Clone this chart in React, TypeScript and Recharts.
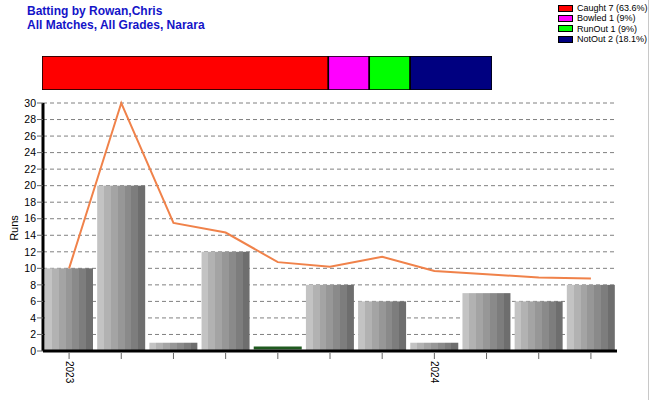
import React from 'react';
import { ComposedChart, BarChart, Bar, Line, XAxis, YAxis, CartesianGrid } from 'recharts';

const innings = ['1', '2', '3', '4', '5', '6', '7', '8', '9', '10', '11'];
const tickLabels = ['2023', '', '', '', '', '', '', '2024', '', '', ''];
const runs = [10, 20, 1, 12, 0, 8, 6, 1, 7, 6, 8];
const average = [10, 30, 15.5, 14.33, 10.75, 10.2, 11.4, 9.67, 9.29, 8.88, 8.78];
const yTicks = [0, 2, 4, 6, 8, 10, 12, 14, 16, 18, 20, 22, 24, 26, 28, 30];

const dismissalNames = ['Caught', 'Bowled', 'RunOut', 'NotOut'];
const dismissalCounts = [7, 1, 1, 2];
const dismissalLabels = ['Caught 7 (63.6%)', 'Bowled 1 (9%)', 'RunOut 1 (9%)', 'NotOut 2 (18.1%)'];
const dismissalColors = ['#ff0000', '#ff00ff', '#00ff00', '#000080'];

const mainData = innings.map((id, i) => ({ id, runs: runs[i], avg: average[i] }));
const dismissalRow: Record<string, any> = { name: 'all' };
dismissalNames.forEach((n, i) => (dismissalRow[n] = dismissalCounts[i]));
const dismissalData = [dismissalRow];

const FONT = '"Liberation Sans", Arial, sans-serif';
const stripeColors = ['#c3c3c3', '#b2b2b2', '#a4a4a4', '#979797', '#8a8a8a', '#7d7d7d', '#6e6e6e'];

const StripedBar = (props: any) => {
  const { x, y, width, height, value } = props;
  if (!value) {
    return <rect x={x} y={y - 4.5} width={width} height={3} fill="#1f5a1f" />;
  }
  return <rect x={x} y={y} width={width} height={height} fill="url(#barStripes)" />;
};

const XTick = (props: any) => {
  const { x, y, payload } = props;
  const label = tickLabels[payload.index] ?? '';
  return (
    <g>
      <line x1={x} y1={y - 6} x2={x} y2={y} stroke="#666" strokeWidth={1} />
      {label ? (
        <text
          transform={`translate(${x},${y + 2}) rotate(90)`}
          textAnchor="start"
          dominantBaseline="central"
          fontSize={10}
          fontFamily={FONT}
          fill="#000"
        >
          {label}
        </text>
      ) : null}
    </g>
  );
};

export default function App() {
  return (
    <div style={{ position: 'absolute', left: 0, top: 0, width: 650, height: 400, background: '#fff', fontFamily: FONT }}>
      <div style={{ position: 'absolute', left: 27, top: 4, color: '#1414c8', fontWeight: 'bold', fontSize: 12, lineHeight: '14px' }}>
        <div>Batting by Rowan,Chris</div>
        <div>All Matches, All Grades, Narara</div>
      </div>

      <div style={{ position: 'absolute', left: 558, top: 3, fontSize: 9, lineHeight: '10.3px', color: '#000' }}>
        {dismissalLabels.map((l, i) => (
          <div key={l} style={{ display: 'flex', alignItems: 'center', height: 10.3 }}>
            <span style={{ display: 'inline-block', width: 13, height: 5, background: dismissalColors[i], border: '1px solid #000', marginRight: 4 }} />
            <span>{l}</span>
          </div>
        ))}
      </div>

      <div style={{ position: 'absolute', left: 42, top: 56 }}>
        <BarChart width={450} height={34} data={dismissalData} layout="vertical" margin={{ top: 0, right: 0, bottom: 0, left: 0 }} barCategoryGap={0}>
          <XAxis type="number" domain={[0, 11]} hide />
          <YAxis type="category" dataKey="name" hide />
          {dismissalNames.map((n, i) => (
            <Bar key={n} dataKey={n} stackId="d" fill={dismissalColors[i]} stroke="#000" strokeWidth={1.5} isAnimationActive={false} />
          ))}
        </BarChart>
      </div>

      <div style={{ position: 'absolute', left: 0, top: 0 }}>
        <ComposedChart width={650} height={400} data={mainData} margin={{ top: 103, right: 33, bottom: 0, left: 0 }} barCategoryGap={2}>
          <defs>
            <linearGradient id="barStripes" x1="0" y1="0" x2="1" y2="0">
              {stripeColors.map((c, i) => (
                <React.Fragment key={i}>
                  <stop offset={i / stripeColors.length} stopColor={c} />
                  <stop offset={(i + 1) / stripeColors.length} stopColor={c} />
                </React.Fragment>
              ))}
            </linearGradient>
          </defs>
          <CartesianGrid vertical={false} stroke="#808080" strokeDasharray="4 3" />
          <XAxis
            dataKey="id"
            height={49}
            axisLine={{ stroke: '#000', strokeWidth: 3 }}
            tickLine={false}
            tick={<XTick />}
            interval={0}
            tickSize={6}
          />
          <YAxis
            width={43}
            domain={[0, 30]}
            ticks={yTicks}
            interval={0}
            axisLine={{ stroke: '#000', strokeWidth: 3 }}
            tickLine={{ stroke: '#666' }}
            tickSize={6}
            tickMargin={1}
            tick={{ fontSize: 10.5, fill: '#000', fontFamily: FONT }}
          />
          <Bar dataKey="runs" shape={<StripedBar />} isAnimationActive={false} />
          <Line dataKey="avg" type="linear" stroke="#f0824a" strokeWidth={2} dot={false} isAnimationActive={false} />
        </ComposedChart>
      </div>

      <div style={{ position: 'absolute', left: 14, top: 228, transform: 'translate(-50%,-50%) rotate(-90deg)', fontSize: 11, color: '#000', whiteSpace: 'nowrap' }}>
        Runs
      </div>
      <div style={{ position: 'absolute', left: 648, top: 0, width: 1, height: 400, background: '#c8c8c8' }} />
    </div>
  );
}
